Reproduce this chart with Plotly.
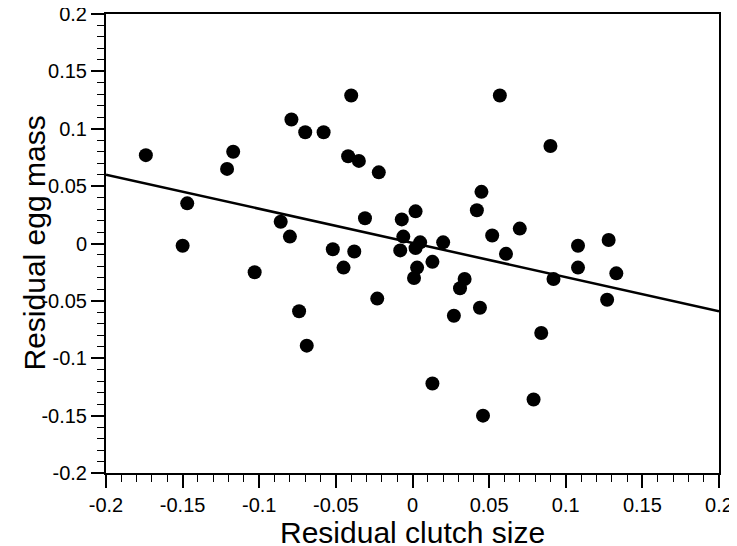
import plotly.graph_objects as go

# DATA
clutch_resid = [
    -0.174, -0.117, -0.121, -0.147, -0.150, -0.079, -0.070, -0.058, -0.040, -0.042,
    -0.035, -0.022, -0.086, -0.080, -0.103, -0.031, -0.052, -0.038, -0.045, -0.023,
    -0.074, -0.069, -0.007, 0.002, -0.006, -0.008,
    0.045, 0.042, 0.057, 0.090, 0.005, 0.002, 0.020, 0.013, 0.003, 0.001,
    0.052, 0.061, 0.070, 0.034, 0.031, 0.027, 0.044, 0.084, 0.092, 0.108,
    0.108, 0.128, 0.133, 0.127, 0.013, 0.079, 0.046,
]
egg_resid = [
    0.077, 0.080, 0.065, 0.035, -0.002, 0.108, 0.097, 0.097, 0.129, 0.076,
    0.072, 0.062, 0.019, 0.006, -0.025, 0.022, -0.005, -0.007, -0.021, -0.048,
    -0.059, -0.089, 0.021, 0.028, 0.006, -0.006,
    0.045, 0.029, 0.129, 0.085, 0.001, -0.004, 0.001, -0.016, -0.021, -0.030,
    0.007, -0.009, 0.013, -0.031, -0.039, -0.063, -0.056, -0.078, -0.031, -0.002,
    -0.021, 0.003, -0.026, -0.049, -0.122, -0.136, -0.150,
]

# regression line end points
fit_x = [-0.2, 0.2]
fit_y = [0.060, -0.059]

tick_vals = [-0.2, -0.15, -0.1, -0.05, 0, 0.05, 0.1, 0.15, 0.2]
tick_text = ["-0.2", "-0.15", "-0.1", "-0.05", "0", "0.05", "0.1", "0.15", "0.2"]


##### FIGURE
fig = go.Figure()

fig.add_trace(go.Scatter(x=fit_x, y=fit_y, mode='lines',
                         line=dict(color='black', width=2.5), showlegend=False))
fig.add_trace(go.Scatter(x=clutch_resid, y=egg_resid, mode='markers',
                         marker=dict(color='black', size=14), showlegend=False))

axis_style = dict(
    range=[-0.2, 0.2], tickvals=tick_vals, ticktext=tick_text,
    showgrid=False, zeroline=False, automargin=False, ticklabeloverflow='allow',
    showline=True, linecolor='black', linewidth=2, mirror=True,
    ticks='outside', ticklen=13, tickwidth=1.5, tickcolor='black',
    minor=dict(dtick=0.01, ticks='outside', ticklen=7, tickwidth=1, tickcolor='black'),
    tickfont=dict(size=20, color='black'),
)

fig.update_xaxes(**axis_style)
fig.update_yaxes(**axis_style)

# axis titles placed as annotations so the margins stay fixed
fig.add_annotation(text='Residual clutch size', xref='paper', yref='paper',
                   x=0.5, y=0, xanchor='center', yanchor='middle', yshift=-59,
                   showarrow=False, font=dict(size=30, color='black'))
fig.add_annotation(text='Residual egg mass', xref='paper', yref='paper',
                   x=0, y=0.5, xanchor='center', yanchor='middle', xshift=-72,
                   textangle=-90, showarrow=False, font=dict(size=30, color='black'))

# page body has an 8px margin, so the plot area is offset by 8px
fig.update_layout(
    width=737, height=546,
    margin=dict(l=98, r=26, t=6, b=81),
    plot_bgcolor='white', paper_bgcolor='white',
    font=dict(family='Liberation Sans, Arial, sans-serif', color='black'),
)

fig.write_html("out.html")
